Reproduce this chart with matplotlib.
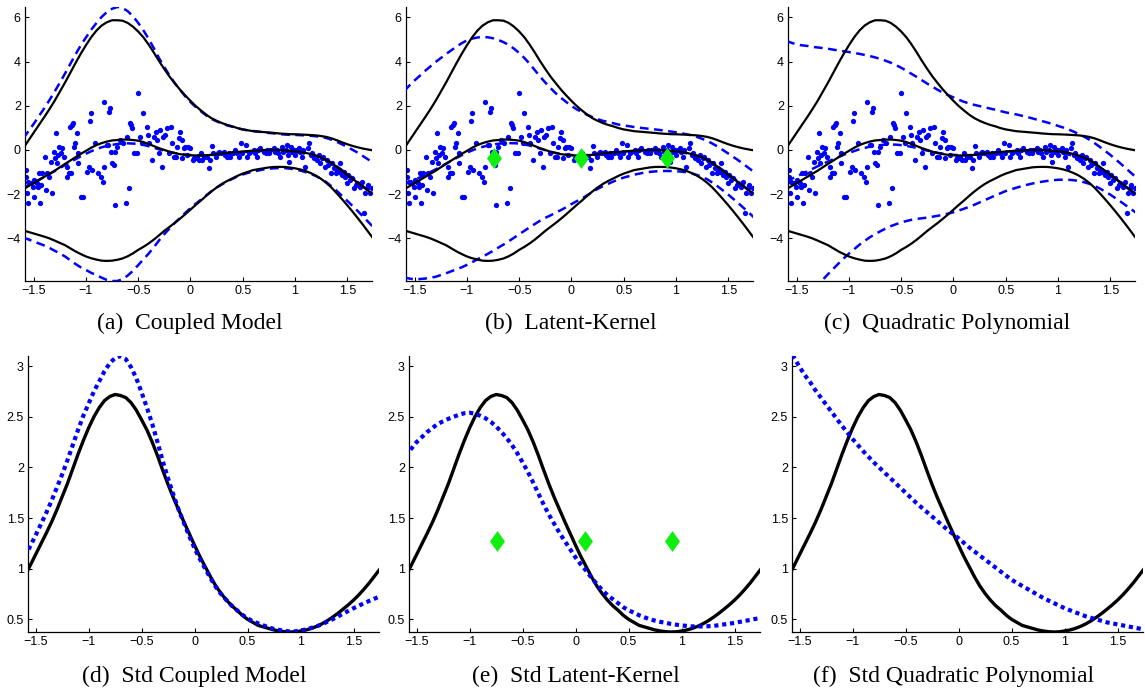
import numpy as np
import matplotlib
matplotlib.use('Agg')
import matplotlib.pyplot as plt
from matplotlib.path import Path

plt.rcParams['font.family'] = ['Liberation Sans', 'DejaVu Sans']

# curves are sampled every 0.05 on this grid (axes clip the ends)
x_grid = np.round(np.arange(-1.6, 1.801, 0.05), 2)

# true predictive mean / std
true_mean = [-1.78, -1.64, -1.50, -1.36, -1.22, -1.08, -0.94, -0.785, -0.63, -0.48,
             -0.33, -0.18, -0.04, 0.10, 0.22, 0.31, 0.38, 0.43, 0.45, 0.47,
             0.47, 0.45, 0.42, 0.355, 0.27, 0.175, 0.08, 0.0, -0.08, -0.14,
             -0.19, -0.22, -0.24, -0.25, -0.25, -0.24, -0.22, -0.19, -0.16, -0.135,
             -0.11, -0.09, -0.07, -0.05, -0.03, -0.02, -0.01, 0.0, 0.0, -0.01,
             -0.02, -0.04, -0.06, -0.09, -0.13, -0.185, -0.25, -0.34, -0.45, -0.59,
             -0.76, -0.94, -1.12, -1.30, -1.48, -1.66, -1.84, -2.02, -2.20]
true_std = [0.93, 1.035, 1.14, 1.245, 1.35, 1.46, 1.58, 1.71, 1.84, 1.985,
            2.13, 2.265, 2.39, 2.50, 2.59, 2.66, 2.70, 2.72, 2.71, 2.69,
            2.64, 2.565, 2.47, 2.37, 2.25, 2.115, 1.97, 1.83, 1.70, 1.58,
            1.46, 1.345, 1.23, 1.12, 1.02, 0.92, 0.83, 0.755, 0.69, 0.635,
            0.59, 0.54, 0.50, 0.47, 0.44, 0.425, 0.41, 0.395, 0.385, 0.378,
            0.375, 0.377, 0.385, 0.395, 0.41, 0.43, 0.455, 0.485, 0.52, 0.558,
            0.60, 0.643, 0.69, 0.742, 0.80, 0.862, 0.93, 0.998, 1.07]

# coupled model
coupled_mean = [-1.72, -1.60, -1.48, -1.35, -1.22, -1.09, -0.96, -0.82, -0.68, -0.55,
                -0.42, -0.29, -0.17, -0.06, 0.04, 0.12, 0.18, 0.23, 0.27, 0.29,
                0.30, 0.29, 0.27, 0.23, 0.17, 0.10, 0.03, -0.03, -0.09, -0.14,
                -0.18, -0.21, -0.23, -0.245, -0.25, -0.245, -0.23, -0.205, -0.18, -0.155,
                -0.13, -0.11, -0.09, -0.075, -0.06, -0.05, -0.04, -0.04, -0.04, -0.05,
                -0.06, -0.08, -0.10, -0.13, -0.17, -0.22, -0.28, -0.36, -0.46, -0.59,
                -0.74, -0.91, -1.08, -1.26, -1.44, -1.64, -1.84, -2.04, -2.24]
coupled_std = [1.12, 1.225, 1.33, 1.44, 1.55, 1.67, 1.80, 1.93, 2.07, 2.22,
               2.37, 2.51, 2.63, 2.75, 2.85, 2.95, 3.03, 3.08, 3.10, 3.07,
               2.99, 2.88, 2.74, 2.59, 2.43, 2.25, 2.06, 1.89, 1.73, 1.58,
               1.45, 1.32, 1.20, 1.095, 1.00, 0.905, 0.82, 0.75, 0.69, 0.635,
               0.59, 0.545, 0.51, 0.48, 0.46, 0.44, 0.42, 0.405, 0.395, 0.385,
               0.38, 0.382, 0.39, 0.40, 0.415, 0.43, 0.45, 0.475, 0.50, 0.527,
               0.555, 0.583, 0.61, 0.635, 0.66, 0.683, 0.705, 0.728, 0.75]

# latent-kernel model
latent_mean = [-1.55, -1.45, -1.35, -1.24, -1.12, -1.00, -0.88, -0.75, -0.62, -0.49,
               -0.36, -0.24, -0.12, -0.02, 0.07, 0.14, 0.20, 0.245, 0.28, 0.30,
               0.31, 0.305, 0.29, 0.25, 0.20, 0.13, 0.06, -0.01, -0.08, -0.135,
               -0.18, -0.21, -0.23, -0.24, -0.24, -0.23, -0.21, -0.185, -0.16, -0.135,
               -0.11, -0.09, -0.07, -0.055, -0.04, -0.03, -0.02, -0.02, -0.02, -0.03,
               -0.04, -0.06, -0.08, -0.11, -0.15, -0.20, -0.27, -0.36, -0.46, -0.60,
               -0.75, -0.92, -1.09, -1.27, -1.45, -1.645, -1.84, -2.04, -2.24]
latent_std = [2.11, 2.185, 2.25, 2.30, 2.35, 2.39, 2.43, 2.455, 2.48, 2.50,
              2.52, 2.535, 2.54, 2.53, 2.51, 2.485, 2.45, 2.405, 2.35, 2.29,
              2.22, 2.14, 2.05, 1.955, 1.85, 1.74, 1.63, 1.53, 1.44, 1.35,
              1.27, 1.19, 1.11, 1.04, 0.98, 0.91, 0.85, 0.79, 0.74, 0.70,
              0.66, 0.62, 0.59, 0.565, 0.54, 0.52, 0.50, 0.487, 0.475, 0.465,
              0.455, 0.447, 0.44, 0.435, 0.43, 0.43, 0.43, 0.432, 0.435, 0.442,
              0.45, 0.457, 0.465, 0.475, 0.485, 0.495, 0.505, 0.515, 0.525]

# quadratic polynomial model
quad_mean = [-1.42, -1.31, -1.20, -1.085, -0.97, -0.855, -0.74, -0.63, -0.52, -0.42,
             -0.32, -0.22, -0.13, -0.05, 0.03, 0.09, 0.15, 0.19, 0.22, 0.24,
             0.25, 0.24, 0.22, 0.185, 0.14, 0.09, 0.03, -0.03, -0.08, -0.13,
             -0.17, -0.20, -0.22, -0.235, -0.24, -0.235, -0.22, -0.195, -0.17, -0.145,
             -0.12, -0.10, -0.08, -0.065, -0.05, -0.045, -0.04, -0.045, -0.05, -0.065,
             -0.08, -0.10, -0.13, -0.165, -0.21, -0.27, -0.34, -0.43, -0.53, -0.66,
             -0.80, -0.96, -1.12, -1.30, -1.48, -1.67, -1.86, -2.05, -2.25]
quad_std = [3.18, 3.08, 2.99, 2.91, 2.84, 2.76, 2.69, 2.62, 2.55, 2.48,
            2.41, 2.345, 2.28, 2.22, 2.16, 2.105, 2.05, 2.00, 1.95, 1.90,
            1.85, 1.80, 1.75, 1.70, 1.65, 1.605, 1.56, 1.515, 1.47, 1.425,
            1.38, 1.34, 1.30, 1.255, 1.21, 1.17, 1.13, 1.09, 1.05, 1.01,
            0.97, 0.93, 0.89, 0.86, 0.83, 0.80, 0.77, 0.74, 0.71, 0.685,
            0.66, 0.635, 0.61, 0.59, 0.57, 0.55, 0.53, 0.515, 0.50, 0.485,
            0.47, 0.46, 0.45, 0.44, 0.43, 0.42, 0.41, 0.40, 0.39]

# inducing inputs of the latent kernel
inducing_x = [-0.74, 0.09, 0.91]
inducing_y_top = -0.35
inducing_y_bottom = 1.27

# training data
observations = [
    (-1.57, -0.90), (-1.57, -1.21), (-1.56, -1.96), (-1.55, -2.41), (-1.55, -1.43),
    (-1.53, -1.51), (-1.51, -1.66), (-1.50, -1.36), (-1.50, -2.11), (-1.48, -1.43),
    (-1.47, -1.51), (-1.46, -1.66), (-1.45, -1.06), (-1.44, -2.38), (-1.43, -1.58),
    (-1.42, -1.06), (-1.39, -0.30), (-1.38, -1.81), (-1.37, -1.06), (-1.35, -1.21),
    (-1.33, -0.53), (-1.32, -1.96), (-1.31, -0.08), (-1.30, -0.38), (-1.29, 0.75),
    (-1.28, -0.60), (-1.27, -0.23), (-1.26, 0.15), (-1.24, -0.15), (-1.23, 0.08),
    (-1.21, -0.30), (-1.18, -0.75), (-1.18, -1.21), (-1.16, -1.06), (-1.15, 1.06),
    (-1.14, -1.06), (-1.13, 1.13), (-1.12, 1.21), (-1.11, 0.15), (-1.10, 0.30),
    (-1.09, 0.78), (-1.08, -0.60), (-1.08, -0.15), (-1.05, -2.11), (-1.03, -2.11),
    (-0.99, -0.98), (-0.97, -0.75), (-0.96, 1.33), (-0.95, 1.66), (-0.94, -0.90),
    (-0.91, 0.30), (-0.88, -1.06), (-0.86, -1.21), (-0.84, -1.43), (-0.83, -0.75),
    (-0.83, 2.19), (-0.80, 0.23), (-0.79, 0.23), (-0.78, 1.73), (-0.77, 1.89),
    (-0.76, -0.08), (-0.75, -0.60), (-0.73, -0.68), (-0.72, -2.49), (-0.72, -0.08),
    (-0.70, 0.15), (-0.67, 0.45), (-0.65, 0.30), (-0.62, -2.41), (-0.61, 0.60),
    (-0.59, -1.73), (-0.58, 1.21), (-0.57, 1.13), (-0.56, 0.98), (-0.54, -0.15),
    (-0.51, -0.15), (-0.50, 2.56), (-0.48, 0.60), (-0.46, 0.30), (-0.45, 1.66),
    (-0.42, 1.06), (-0.41, 0.68), (-0.40, 0.30), (-0.37, -0.45), (-0.35, 0.60),
    (-0.33, 0.83), (-0.32, 0.45), (-0.30, -0.15), (-0.29, 0.90), (-0.27, -0.75),
    (-0.26, 0.60), (-0.24, 0.68), (-0.22, 0.98), (-0.21, -0.15), (-0.19, 1.06),
    (-0.18, 0.30), (-0.16, -0.30), (-0.14, -0.30), (-0.13, 0.15), (-0.11, 0.53),
    (-0.10, 0.83), (-0.08, 0.45), (-0.08, -0.38), (-0.06, 0.08), (-0.05, 0.15),
    (-0.03, -0.23), (-0.02, 0.15), (0.00, 0.08), (0.02, -0.45), (0.03, -0.38),
    (0.05, -0.38), (0.06, -0.30), (0.08, -0.45), (0.10, -0.15), (0.11, -0.45),
    (0.13, -0.30), (0.16, -0.30), (0.18, -0.83), (0.19, -0.45), (0.21, 0.18),
    (0.22, -0.15), (0.24, -0.30), (0.26, -0.15), (0.27, -0.08), (0.29, -0.15),
    (0.32, -0.08), (0.33, -0.23), (0.35, -0.30), (0.37, -0.15), (0.38, -0.30),
    (0.41, -0.15), (0.43, 0.00), (0.45, -0.15), (0.46, -0.30), (0.48, 0.30),
    (0.49, -0.15), (0.53, 0.23), (0.54, -0.30), (0.56, -0.15), (0.57, -0.08),
    (0.61, 0.00), (0.62, -0.15), (0.64, -0.30), (0.65, 0.00), (0.67, 0.08),
    (0.70, -0.08), (0.72, -0.15), (0.73, 0.00), (0.75, -0.15), (0.76, 0.00),
    (0.80, 0.08), (0.81, -0.08), (0.83, 0.00), (0.84, -0.15), (0.86, -0.30),
    (0.88, 0.15), (0.89, -0.08), (0.91, 0.00), (0.92, 0.23), (0.93, -0.23),
    (0.94, -0.53), (0.96, 0.15), (0.97, -0.08), (0.99, 0.00), (1.00, -0.23),
    (1.02, 0.00), (1.04, 0.08), (1.05, -0.08), (1.07, -0.30), (1.08, 0.00),
    (1.10, -0.75), (1.12, 0.08), (1.13, 0.30), (1.15, -0.23), (1.16, -0.15),
    (1.18, -0.38), (1.19, -0.30), (1.21, -0.45), (1.23, -0.23), (1.24, -0.60),
    (1.26, -0.38), (1.27, -0.30), (1.29, -0.75), (1.31, -0.45), (1.32, -0.68),
    (1.34, -1.06), (1.35, -0.60), (1.37, -0.83), (1.39, -1.06), (1.40, -0.90),
    (1.42, -0.98), (1.43, -0.60), (1.45, -1.13), (1.47, -0.98), (1.48, -1.21),
    (1.50, -1.51), (1.51, -1.13), (1.53, -1.36), (1.55, -1.28), (1.56, -1.73),
    (1.58, -1.58), (1.59, -1.51), (1.62, -1.66), (1.64, -1.43), (1.66, -2.87),
    (1.67, -1.96), (1.69, -1.73), (1.70, -1.58), (1.72, -1.96), (1.74, -1.73),
]

models = [
    ('Coupled Model', coupled_mean, coupled_std),
    ('Latent-Kernel', latent_mean, latent_std),
    ('Quadratic Polynomial', quad_mean, quad_std),
]

xticks = [-1.5, -1, -0.5, 0, 0.5, 1, 1.5]
xlabels = ['\u22121.5', '\u22121', '\u22120.5', '0', '0.5', '1', '1.5']

diamond = Path([(0, 1), (0.72, 0), (0, -1), (-0.72, 0), (0, 1)])
GREEN = '#10ee10'
BLUE = '#0000ff'

W, H = 1145, 691
fig = plt.figure(figsize=(W / 100, H / 100), dpi=100)

top_left = [25, 406, 788]
bot_left = [28, 409, 792]
caption_shift = [-9, -9, -14]
letters = 'abcdef'


def style(ax, xlim, ylim, yticks, ylabels):
    for s in ['top', 'right']:
        ax.spines[s].set_visible(False)
    for s in ['left', 'bottom']:
        ax.spines[s].set_linewidth(0.9)
    ax.set_xlim(*xlim)
    ax.set_ylim(*ylim)
    ax.set_xticks(xticks)
    ax.set_xticklabels(xlabels)
    ax.set_yticks(yticks)
    ax.set_yticklabels(ylabels)
    ax.tick_params(direction='in', length=3, width=0.8, labelsize=9, pad=3)


tm = np.array(true_mean)
ts = np.array(true_std)
obs = np.array(observations)

for i, (name, m, s) in enumerate(models):
    m = np.array(m)
    s = np.array(s)

    # top row: data, true band and model band (mean +/- 2 std)
    ax = fig.add_axes([top_left[i] / W, 1 - 281 / H, 347 / W, 274 / H])
    ax.plot(obs[:, 0], obs[:, 1], 'o', color=BLUE, ms=3.8, mec='none', zorder=2)
    for curve in [m + 2 * s, m, m - 2 * s]:
        ax.plot(x_grid, curve, color=BLUE, lw=1.8, ls=(0, (3.5, 2.2)), zorder=3)
    for curve in [tm + 2 * ts, tm, tm - 2 * ts]:
        ax.plot(x_grid, curve, color='black', lw=1.6, zorder=4)
    if name == 'Latent-Kernel':
        ax.plot(inducing_x, [inducing_y_top] * 3, ls='none', marker=diamond,
                ms=15, color=GREEN, mec='none', zorder=5)
    style(ax, (-1.583, 1.737), (-5.93, 6.47), [-4, -2, 0, 2, 4, 6],
          ['\u22124', '\u22122', '0', '2', '4', '6'])
    cx = (top_left[i] + 347 / 2 + caption_shift[i]) / W
    fig.text(cx, 1 - 323 / H, '(%s)  %s' % (letters[i], name),
             ha='center', va='center', fontsize=17, family='Liberation Serif')

    # bottom row: predictive standard deviation
    ax = fig.add_axes([bot_left[i] / W, 1 - 632 / H, 351 / W, 276 / H])
    ax.plot(x_grid, ts, color='black', lw=2.4, zorder=3)
    ax.plot(x_grid, s, color=BLUE, lw=3.0, ls=(0, (1.0, 0.9)), zorder=4)
    if name == 'Latent-Kernel':
        ax.plot(inducing_x, [inducing_y_bottom] * 3, ls='none', marker=diamond,
                ms=15, color=GREEN, mec='none', zorder=5)
    style(ax, (-1.572, 1.74), (0.375, 3.1), [0.5, 1, 1.5, 2, 2.5, 3],
          ['0.5', '1', '1.5', '2', '2.5', '3'])
    cx = (bot_left[i] + 351 / 2 + caption_shift[i]) / W
    fig.text(cx, 1 - 676 / H, '(%s)  Std %s' % (letters[i + 3], name),
             ha='center', va='center', fontsize=17, family='Liberation Serif')

fig.savefig('out.png', dpi=100)
